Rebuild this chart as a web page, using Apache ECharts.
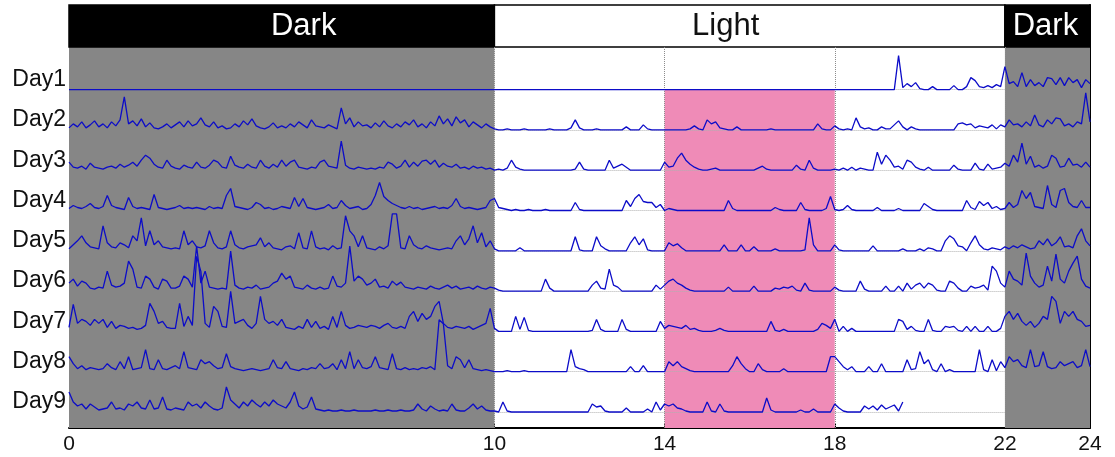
<!DOCTYPE html>
<html><head><meta charset="utf-8">
<script src="https://cdn.jsdelivr.net/npm/echarts@6/dist/echarts.min.js"></script>
<style>html,body{margin:0;padding:0;background:#fff}#c{width:1115px;height:457px}</style>
</head><body><div id="c"></div>
<script>
// ---------- data (activity height per 0.1 h bin, from 0.0 h) ----------
const dayNames = ['Day1','Day2','Day3','Day4','Day5','Day6','Day7','Day8','Day9'];
const hourTicks = [0,10,14,18,22,24];
const phaseBands = [[0,10,'Dark'],[10,22,'Light'],[22,24,'Dark']];
const stimWindow = [14,18];
const STEP = 0.1;

const day1 = [
0,0,0,0,0,0,0,0,0,0, 0,0,0,0,0,0,0,0,0,0, 0,0,0,0,0,0,0,0,0,0, 0,0,0,0,0,0,0,0,0,0,
0,0,0,0,0,0,0,0,0,0, 0,0,0,0,0,0,0,0,0,0, 0,0,0,0,0,0,0,0,0,0, 0,0,0,0,0,0,0,0,0,0,
0,0,0,0,0,0,0,0,0,0, 0,0,0,0,0,0,0,0,0,0, 0,0,0,0,0,0,0,0,0,0, 0,0,0,0,0,0,0,0,0,0,
0,0,0,0,0,0,0,0,0,0, 0,0,0,0,0,0,0,0,0,0, 0,0,0,0,0,0,0,0,0,0, 0,0,0,0,0,0,0,0,0,0,
0,0,0,0,0,0,0,0,0,0, 0,0,0,0,0,0,0,0,0,0, 0,0,0,0,0,0,0,0,0,0,
0,0,0,0,0,34,2,6,3,7,
1,0,0,3,0,0,0,0,4,0,
0,3,12,9,3,2,4,2,5,3,
23,6,8,3,17,3,10,4,7,3,
12,11,5,12,4,12,7,10,2,10,
6];
const day2 = [
2,6,3,8,2,5,9,3,6,2,
8,4,10,33,6,9,4,11,3,7,
2,1,3,6,2,5,8,3,9,4,
6,12,5,3,8,2,4,1,2,6,
3,9,5,11,4,2,1,3,7,2,
4,2,6,3,8,5,2,10,4,3,
2,5,3,1,22,6,12,3,8,4,
5,2,7,3,9,4,2,6,3,8,
5,10,3,6,2,8,4,14,6,11,
4,13,7,10,3,8,5,2,6,3,
1,0,0,1,0,0,0,1,0,0,
0,0,0,1,0,0,0,0,2,10,
2,0,0,0,1,0,0,0,0,0,
0,3,0,0,0,5,1,0,0,0,
0,0,0,0,0,0,1,4,1,0,
10,6,8,2,1,0,0,3,0,0,
0,0,0,0,0,1,0,0,0,0,
0,0,0,0,0,0,6,1,0,0,
4,1,0,1,0,12,3,1,2,0,
0,3,1,1,5,9,3,0,3,1,
0,0,0,0,0,0,0,0,0,6,
7,5,6,2,4,3,2,5,1,5,
3,10,5,6,3,8,4,15,5,3,
10,6,12,11,4,6,3,8,6,37,
8];
const day3 = [
8,3,2,4,1,7,3,2,1,3,
4,2,6,3,5,8,4,10,15,12,
6,3,2,10,4,2,1,5,3,2,
8,3,2,5,10,8,3,2,14,5,
3,2,6,3,2,10,4,2,6,3,
10,4,8,10,3,2,1,3,2,8,
10,4,3,2,29,5,2,1,3,2,
1,2,1,3,2,8,6,2,4,10,
3,8,4,9,10,6,10,3,7,4,
3,6,2,3,1,4,2,3,1,2,
0,1,0,2,10,3,1,0,0,0,
0,0,0,0,0,0,0,0,0,1,
8,1,0,0,0,0,0,10,2,4,
6,3,0,0,0,0,0,0,0,0,
8,3,4,12,17,10,6,3,1,0,
0,1,2,0,0,0,0,0,0,0,
0,0,2,4,1,0,0,0,0,0,
0,5,1,0,10,2,0,0,0,0,
1,0,2,0,3,0,2,1,0,0,
18,6,15,10,3,4,1,10,8,3,
1,0,3,0,0,0,0,0,5,1,
0,0,0,7,1,0,6,1,2,3,
7,4,15,8,27,6,14,3,5,2,
4,15,12,3,4,12,5,6,3,8,
3];
const day4 = [
2,5,3,2,4,7,3,2,4,15,
5,3,2,1,13,4,2,3,2,1,
16,3,2,1,2,3,5,2,3,2,
3,2,1,4,2,3,2,15,22,4,
3,2,1,3,8,6,2,3,1,2,
4,3,2,13,4,12,3,2,1,2,
3,6,2,3,10,5,2,3,4,1,
2,6,15,28,14,10,7,5,3,2,
4,2,3,1,2,3,4,2,3,2,
5,12,4,2,3,2,1,2,3,10,
12,3,2,1,0,1,0,0,1,0,
0,0,1,0,0,0,0,0,0,8,
1,0,0,0,0,0,0,0,0,0,
0,10,4,12,16,9,8,8,3,6,
0,2,1,0,0,0,0,0,0,0,
0,0,0,0,0,10,2,0,0,0,
0,0,0,0,0,0,3,1,0,0,
0,0,8,1,0,0,0,0,2,14,
1,0,1,5,1,0,0,0,0,0,
3,0,0,0,0,2,0,0,0,0,
0,7,4,1,0,0,0,0,0,0,
0,10,3,1,9,5,8,2,4,1,
2,8,3,6,20,12,18,4,3,2,
25,6,3,20,22,8,4,3,10,3,
3];
const day5 = [
2,6,10,15,8,4,3,2,25,8,
4,3,8,6,3,15,10,33,5,20,
6,10,4,3,2,3,2,20,6,10,
4,3,5,20,8,3,2,4,20,6,
3,2,4,5,6,13,4,8,3,2,
1,4,5,2,18,3,2,20,4,2,
3,1,5,2,3,35,20,15,4,15,
3,2,1,4,2,5,37,37,3,2,
15,6,3,2,5,3,2,1,2,3,
2,10,15,6,12,25,8,18,4,10,
2,0,0,0,0,0,3,0,0,0,
0,0,0,0,0,0,0,0,0,14,
1,0,0,0,14,5,2,0,0,0,
0,0,8,14,6,12,1,0,0,0,
0,8,5,7,3,0,0,0,0,0,
0,0,0,0,6,0,0,0,6,0,
0,4,0,0,0,0,2,0,0,0,
0,0,0,1,33,6,0,0,0,0,
6,1,0,0,0,0,0,0,0,5,
0,0,0,0,0,0,2,0,0,0,
2,0,3,2,0,0,10,15,12,5,
4,0,8,15,6,2,1,3,2,1,
4,2,5,3,6,4,2,3,10,6,
12,5,8,14,4,5,3,15,22,10,
5];
const day6 = [
8,12,5,10,8,3,2,4,3,20,
6,4,5,8,30,22,4,3,15,12,
4,2,12,10,3,3,5,15,12,4,
45,8,20,4,3,2,3,2,40,6,
3,2,4,3,6,2,3,4,8,10,
18,12,15,4,3,2,6,3,2,4,
2,3,15,5,4,8,45,10,15,12,
6,8,12,4,5,3,10,6,9,4,
3,2,4,3,2,5,3,2,4,6,
3,5,2,3,4,2,5,3,2,4,
3,1,0,0,0,0,0,0,0,0,
0,0,12,3,0,0,0,0,0,0,
0,0,0,6,10,3,2,22,6,4,
0,0,0,0,0,0,0,0,6,2,
6,10,12,8,6,3,1,0,0,0,
0,0,0,0,0,4,0,0,0,0,
0,5,0,0,0,0,3,2,4,3,
5,1,0,8,1,0,0,0,0,0,
4,1,0,0,0,0,10,2,0,0,
0,0,5,0,0,5,0,8,2,6,
8,3,8,6,1,0,0,10,8,3,
0,0,5,3,4,6,1,25,20,8,
4,20,12,10,6,38,15,8,4,6,
25,10,37,12,8,20,28,35,12,5,
3];
const day7 = [
4,27,8,12,10,6,12,8,12,4,
10,3,6,5,3,4,2,3,6,28,
20,8,10,4,3,3,28,5,15,6,
75,60,8,4,25,20,5,4,40,8,
10,12,6,3,8,35,12,8,10,6,
12,4,3,2,5,3,12,4,10,3,
5,2,15,4,20,6,3,4,6,5,
4,6,5,3,6,8,4,3,5,3,
15,20,10,18,12,15,25,30,8,4,
3,5,4,3,5,2,4,6,8,23,
3,0,0,0,0,15,2,14,1,0,
0,0,0,0,0,0,0,0,0,0,
0,0,0,1,12,2,0,0,0,0,
12,2,0,0,0,0,0,0,0,10,
3,6,5,4,3,6,2,3,1,0,
0,0,1,3,1,0,0,0,0,0,
0,0,0,0,0,10,1,0,2,0,
0,0,0,0,0,0,2,8,6,3,
12,0,5,0,3,0,0,0,0,0,
0,0,0,0,0,12,10,2,5,1,
0,0,12,1,0,0,5,4,5,1,
0,5,0,5,0,0,5,0,0,3,
15,20,12,18,10,6,10,4,8,15,
12,35,30,8,20,15,20,12,10,5,
6];
const day8 = [
15,8,3,6,2,4,3,2,3,8,
4,2,10,3,15,2,3,4,22,3,
2,12,3,2,4,6,3,20,4,3,
2,12,8,10,6,3,4,18,5,3,
2,1,2,3,2,1,2,3,12,4,
3,10,3,2,1,3,2,4,3,8,
3,4,8,2,12,3,20,3,12,4,
3,5,15,4,3,2,18,3,2,4,
2,3,2,4,3,5,2,52,48,6,
3,15,12,4,12,3,2,1,2,1,
0,0,0,1,0,0,0,1,0,0,
0,0,0,0,0,0,0,0,22,5,
3,2,0,0,0,0,0,0,0,0,
0,0,5,0,0,6,0,0,0,0,
0,10,6,10,5,3,1,0,0,0,
0,0,0,0,0,0,6,15,8,3,
0,0,8,2,0,0,0,0,3,0,
0,0,0,0,0,0,0,0,0,15,
15,10,5,2,5,0,0,0,5,0,
0,8,0,0,0,0,0,12,2,3,
20,8,12,2,0,8,0,2,0,0,
0,0,0,0,22,2,0,12,1,10,
4,15,10,12,6,4,22,5,6,20,
5,3,4,10,6,8,10,4,6,22,
5];
const day9 = [
20,10,6,8,3,8,5,2,3,4,
10,3,4,2,8,6,10,4,3,12,
3,4,15,3,2,4,3,2,10,6,
8,4,10,6,3,2,4,25,12,8,
4,10,6,12,8,5,10,6,12,8,
6,4,10,20,6,3,5,15,3,2,
1,2,1,1,2,1,1,2,1,1,
1,1,2,1,1,2,1,1,2,1,
1,2,8,3,1,6,3,1,2,1,
8,2,1,1,4,8,3,6,2,1,
1,0,10,1,0,0,0,0,0,0,
0,0,0,0,0,0,0,0,0,0,
0,0,0,8,5,6,1,0,0,0,
0,4,0,0,0,0,3,0,10,2,
8,6,8,4,3,1,0,0,0,0,
10,1,0,8,1,0,0,0,0,0,
0,0,0,0,14,2,0,0,0,0,
0,0,2,0,0,3,0,0,0,0,
8,4,1,0,0,0,0,6,3,6,
2,7,3,5,7,1,10];

const days = [day1,day2,day3,day4,day5,day6,day7,day8,day9];

// ---------- layout in value space (1 unit ~ 1 px) ----------
const ROW = 40.3;
const Y_MIN = -16, PLOT_TOP = 365, Y_MAX = 407;
const baselines = dayNames.map((d,i)=> +((8-i)*ROW).toFixed(2));
const labelPos = baselines.map(b=> +(b+10).toFixed(2));

const FONT = "'Liberation Sans', Arial, sans-serif";
const GRAY = '#868686', PINK = '#ef8bb7', TRACE = '#0c0cc8';

const traceSeries = days.map((arr,i)=>({
  type:'line', name: dayNames[i], symbol:'none', z:5, silent:true,
  lineStyle:{color:TRACE,width:1.3}, animation:false,
  data: arr.map((v,j)=>[+(j*STEP).toFixed(1), baselines[i]+v])
}));

const bandOffsets = {0:[22,0],10:[-24,0],22:[-2,0]};
const bandAreas = phaseBands.map(([a,b,t])=>{
  const dark = t==='Dark';
  return [{xAxis:a,yAxis:PLOT_TOP,name:t,
    itemStyle:{color: dark?'#000':'#fff', borderColor:'#000', borderWidth:1.5},
    label:{color: dark?'#fff':'#111', offset: bandOffsets[a]}},
    {xAxis:b,yAxis:Y_MAX}];
});

const bgSeries = {
  type:'line', data:[], z:1, silent:true, animation:false,
  markArea:{silent:true,
    label:{show:true,position:'inside',fontSize:31,fontFamily:FONT},
    data:[
      [{xAxis:0,yAxis:Y_MIN,itemStyle:{color:GRAY},label:{show:false}},{xAxis:10,yAxis:PLOT_TOP}],
      [{xAxis:22,yAxis:Y_MIN,itemStyle:{color:GRAY},label:{show:false}},{xAxis:24,yAxis:PLOT_TOP}],
      [{xAxis:stimWindow[0],yAxis:Y_MIN,itemStyle:{color:PINK},label:{show:false}},{xAxis:stimWindow[1],yAxis:baselines[0]}],
      ...bandAreas
    ]}
};

const guideSeries = {
  type:'line', data:[], z:2, silent:true, animation:false,
  markLine:{silent:true, symbol:['none','none'], label:{show:false},
    data:[
      ...[10,14,18,22].map(h=>[{coord:[h,Y_MIN],lineStyle:{type:'dotted',color:'#8c8c8c',width:1}},{coord:[h,PLOT_TOP]}]),
      ...baselines.map(b=>[{coord:[10,b],lineStyle:{type:'dotted',color:'#b0b0b0',width:1}},{coord:[22,b]}])
    ]}
};

const chart = echarts.init(document.getElementById('c'), null, {renderer:'canvas'});
chart.setOption({
  animation:false,
  backgroundColor:'#fff',
  grid:{left:69,right:25,top:5,bottom:29},
  xAxis:{type:'value',min:0,max:24,
    axisLine:{show:true,onZero:false,lineStyle:{color:'#000',width:2}},
    axisTick:{show:true,inside:true,length:5,customValues:hourTicks,lineStyle:{color:'#000'}},
    axisLabel:{customValues:hourTicks,fontSize:21,color:'#111',fontFamily:FONT,margin:6},
    splitLine:{show:false}},
  yAxis:[
    {type:'value',min:Y_MIN,max:Y_MAX,position:'left',
      axisLine:{show:false,onZero:false},
      axisTick:{show:true,inside:true,length:4,customValues:baselines,lineStyle:{color:'#333'}},
      axisLabel:{customValues:labelPos,fontSize:23,color:'#111',fontFamily:FONT,margin:3,
        formatter:(v)=>{const k=labelPos.findIndex(p=>Math.abs(p-v)<0.5);return k>=0?dayNames[k]:'';}},
      splitLine:{show:false}},
    {type:'value',min:Y_MIN,max:Y_MAX,position:'right',
      axisLine:{show:true,onZero:false,lineStyle:{color:'#000',width:2}},
      axisTick:{show:true,inside:true,length:5,customValues:baselines,lineStyle:{color:'#000'}},
      axisLabel:{show:false},splitLine:{show:false}}
  ],
  series:[bgSeries,guideSeries,...traceSeries]
});
</script></body></html>
